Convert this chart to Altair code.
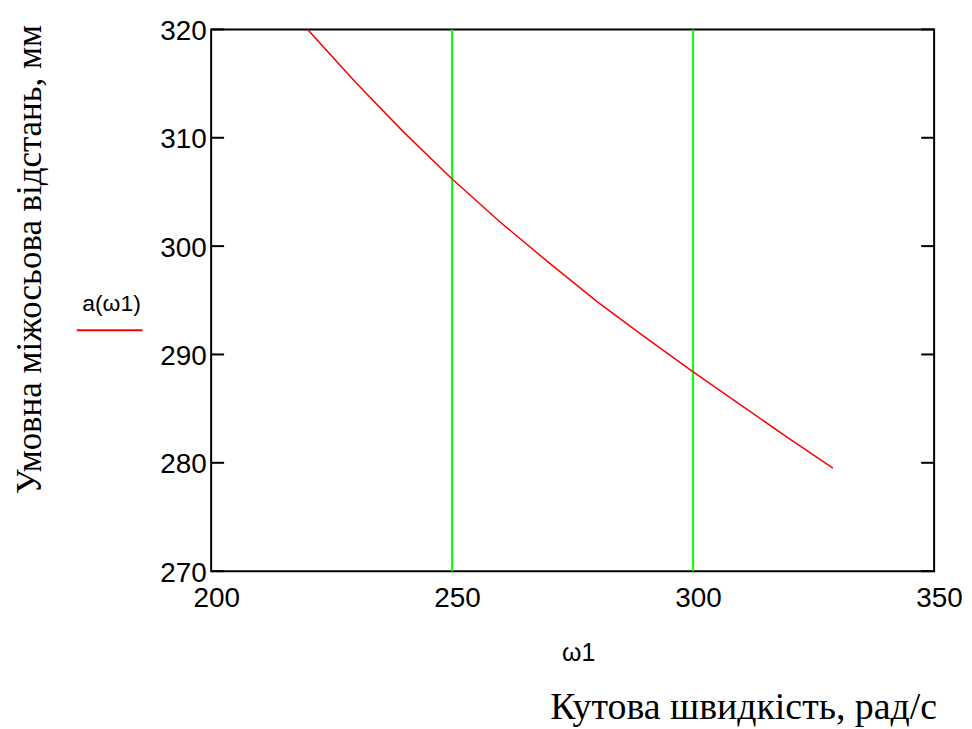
import altair as alt
import pandas as pd

# Data
omega = [220, 230, 240, 250, 260, 270, 280, 290, 300, 310, 320, 329]
a_vals = [320.0, 315.1, 310.5, 306.2, 302.2, 298.5, 294.9, 291.6, 288.4, 285.3, 282.2, 279.5]
x_ticks = [200, 250, 300, 350]
y_ticks = [270, 280, 290, 300, 310, 320]
marker_lines = [250, 300]

W, H = 726, 544
xs = alt.Scale(domain=[200, 350], nice=False, zero=False)
ys = alt.Scale(domain=[270, 320], nice=False, zero=False)

LABEL_FONT = "Liberation Sans"
SERIF = "Liberation Serif"

x_axis = alt.Axis(values=x_ticks, title=None, domain=False, ticks=False, grid=False,
                  labelFont=LABEL_FONT, labelFontSize=28, labelColor="#000",
                  labelPadding=13, labelOffset=5, labelOverlap=False, labelFlush=False,
                  labelBound=False, format="d")
y_axis = alt.Axis(values=y_ticks, title=None, domain=False, ticks=False, grid=False,
                  labelFont=LABEL_FONT, labelFontSize=28, labelColor="#000",
                  labelPadding=5, labelOffset=2, labelOverlap=False, labelFlush=False,
                  labelBound=False, format="d")

curve_df = pd.DataFrame({"w": omega, "a": a_vals})

green = alt.Chart(pd.DataFrame({"w": marker_lines})).mark_rule(
    color="#00ff00", strokeWidth=2).encode(x=alt.X("w:Q", scale=xs, axis=x_axis))

curve = alt.Chart(curve_df).mark_line(color="#ff0000", strokeWidth=1.5, clip=True).encode(
    x=alt.X("w:Q", scale=xs, axis=x_axis),
    y=alt.Y("a:Q", scale=ys, axis=y_axis),
)

tick_df = pd.DataFrame({"t": y_ticks})
left_ticks = alt.Chart(tick_df).mark_rule(color="#000", strokeWidth=2).encode(
    y=alt.Y("t:Q", scale=ys, axis=y_axis), x=alt.value(0), x2=alt.value(13))
right_ticks = alt.Chart(tick_df).mark_rule(color="#000", strokeWidth=2).encode(
    y=alt.Y("t:Q", scale=ys, axis=y_axis), x=alt.value(W - 13), x2=alt.value(W))

def label(text, x, y, **kw):
    return alt.Chart(pd.DataFrame({"t": [text]})).mark_text(**kw).encode(
        text="t:N", x=alt.value(x), y=alt.value(y))

legend_text = label("a(ω1)", -100, 276, font=LABEL_FONT, fontSize=23, color="#000",
                    align="center", baseline="middle")
legend_line = alt.Chart(pd.DataFrame({"k": [0]})).mark_rule(
    color="#ff0000", strokeWidth=2).encode(
    x=alt.value(-135), x2=alt.value(-69), y=alt.value(302))

x_title = label("ω1", 369, 626, font=LABEL_FONT, fontSize=25, color="#000",
                align="center", baseline="middle")
y_title = label("Умовна міжосьова відстань, мм", -182, 231, font=SERIF, fontSize=35,
                color="#000", align="center", baseline="middle", angle=270)
bottom_title = label("Кутова швидкість, рад/с", 729, 692, font=SERIF, fontSize=38,
                     color="#000", align="right", baseline="alphabetic")

chart = alt.layer(
    green, curve, left_ticks, right_ticks, legend_line, legend_text,
    x_title, y_title, bottom_title
).properties(
    width=W, height=H,
    padding={"left": 204, "top": 20, "right": 30, "bottom": 157},
    autosize=alt.AutoSizeParams(type="none"),
).configure_view(stroke="#000", strokeWidth=2)

chart.save("out.html", embed_options={"renderer": "svg", "actions": False})
